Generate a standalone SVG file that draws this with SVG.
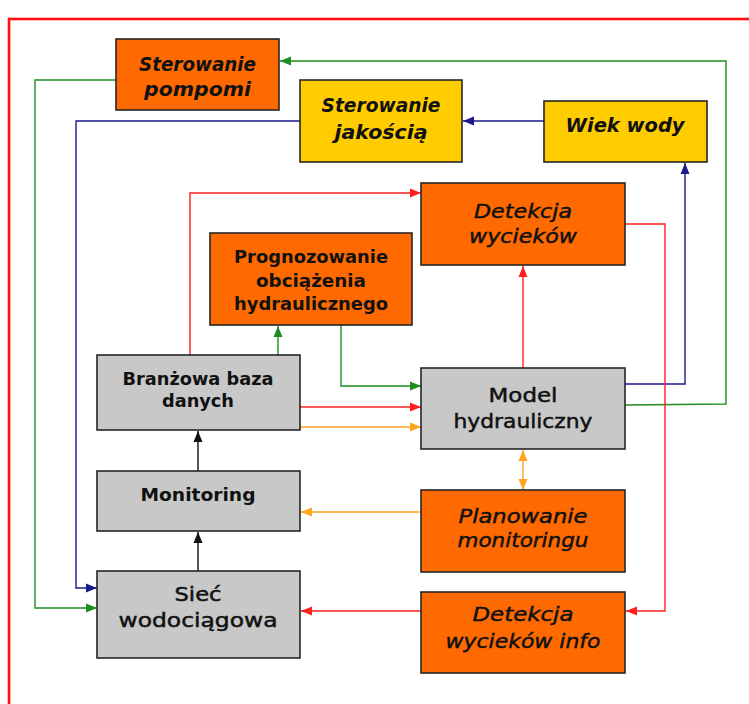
<svg xmlns="http://www.w3.org/2000/svg" width="749" height="704" viewBox="0 0 749 704">
<style>
.box{stroke:#262626;stroke-width:1.6}
.or{fill:#FF6A00}
.ye{fill:#FFCC00}
.gr{fill:#C8C8C8}
text{font-family:"DejaVu Sans","Liberation Sans",sans-serif;fill:#111;text-anchor:middle}
.bi{font-style:oblique;font-weight:bold}
.i{font-style:oblique;stroke:#111;stroke-width:0.45}
.n{stroke:#111;stroke-width:0.5}
.b{font-weight:bold}
.c path{fill:none;stroke-width:1.4}
.g{stroke:#1E8C1E}
.bl{stroke:#1A1A8C}
.r{stroke:#FF2020}
.o{stroke:#FFA41C}
.k{stroke:#111}
</style>
<defs>
<marker id="mg" markerUnits="userSpaceOnUse" markerWidth="12" markerHeight="12" refX="11" refY="6" orient="auto-start-reverse"><path d="M0,1.5 L11,6 L0,10.5 Z" fill="#1E8C1E"/></marker>
<marker id="mb" markerUnits="userSpaceOnUse" markerWidth="12" markerHeight="12" refX="11" refY="6" orient="auto-start-reverse"><path d="M0,1.5 L11,6 L0,10.5 Z" fill="#1A1A8C"/></marker>
<marker id="mr" markerUnits="userSpaceOnUse" markerWidth="12" markerHeight="12" refX="11" refY="6" orient="auto-start-reverse"><path d="M0,1.5 L11,6 L0,10.5 Z" fill="#FF2020"/></marker>
<marker id="mo" markerUnits="userSpaceOnUse" markerWidth="12" markerHeight="12" refX="11" refY="6" orient="auto-start-reverse"><path d="M0,1.5 L11,6 L0,10.5 Z" fill="#FFA41C"/></marker>
<marker id="mk" markerUnits="userSpaceOnUse" markerWidth="12" markerHeight="12" refX="11" refY="6" orient="auto-start-reverse"><path d="M0,1.5 L11,6 L0,10.5 Z" fill="#111"/></marker>
</defs>
<rect width="749" height="704" fill="#fff"/>
<rect x="9" y="19" width="760" height="720" fill="none" stroke="#FF1010" stroke-width="2.6"/>

<g id="connectors" class="c">
<path class="g" d="M625,405 L726,404 L726,61 L280,61" marker-end="url(#mg)"/>
<path class="g" d="M116,80 L35,80 L35,608 L97,608" marker-end="url(#mg)"/>
<path class="bl" d="M300,121 L76,121 L76,588 L97,588" marker-end="url(#mb)"/>
<path class="bl" d="M544,121 L463,121" marker-end="url(#mb)"/>
<path class="bl" d="M625,384 L685,384 L685,163" marker-end="url(#mb)"/>
<path class="r" d="M190,355 L190,193 L421,193" marker-end="url(#mr)"/>
<path class="r" d="M625,224 L665,224 L665,611 L626,611" marker-end="url(#mr)"/>
<path class="g" d="M278,362 L278,326" marker-end="url(#mg)"/>
<path class="g" d="M341,325 L341,386 L421,386" marker-end="url(#mg)"/>
<path class="r" d="M523,368 L523,266" marker-end="url(#mr)"/>
<path class="r" d="M300,407 L421,407" marker-end="url(#mr)"/>
<path class="o" d="M300,427 L421,427" marker-end="url(#mo)"/>
<path class="o" d="M523,450 L523,490" marker-start="url(#mo)" marker-end="url(#mo)"/>
<path class="o" d="M421,512 L301,512" marker-end="url(#mo)"/>
<path class="k" d="M198,471 L198,431" marker-end="url(#mk)"/>
<path class="k" d="M198,571 L198,532" marker-end="url(#mk)"/>
<path class="r" d="M421,611 L301,611" marker-end="url(#mr)"/>
</g>

<g id="sterowanie-pompomi">
<rect class="box or" x="116" y="39" width="163" height="71"/>
<text class="bi" x="197.5" y="71" font-size="19" textLength="117" lengthAdjust="spacingAndGlyphs">Sterowanie</text>
<text class="bi" x="197.5" y="96" font-size="19" textLength="107" lengthAdjust="spacingAndGlyphs">pompomi</text>
</g>
<g id="sterowanie-jakoscia">
<rect class="box ye" x="300" y="80" width="162" height="82"/>
<text class="bi" x="381" y="112" font-size="19" textLength="119" lengthAdjust="spacingAndGlyphs">Sterowanie</text>
<text class="bi" x="381" y="139" font-size="19" textLength="93" lengthAdjust="spacingAndGlyphs">jakością</text>
</g>
<g id="wiek-wody">
<rect class="box ye" x="544" y="101" width="163" height="61"/>
<text class="bi" x="625" y="132" font-size="19" textLength="119" lengthAdjust="spacingAndGlyphs">Wiek wody</text>
</g>
<g id="detekcja-wyciekow">
<rect class="box or" x="421" y="183" width="204" height="82"/>
<text class="i" x="523" y="218" font-size="19" textLength="98" lengthAdjust="spacingAndGlyphs">Detekcja</text>
<text class="i" x="523" y="243" font-size="19" textLength="108" lengthAdjust="spacingAndGlyphs">wycieków</text>
</g>
<g id="prognozowanie">
<rect class="box or" x="210" y="233" width="202" height="92"/>
<text class="b" x="311" y="263" font-size="17" textLength="154" lengthAdjust="spacingAndGlyphs">Prognozowanie</text>
<text class="b" x="311" y="287" font-size="17" textLength="110" lengthAdjust="spacingAndGlyphs">obciążenia</text>
<text class="b" x="311" y="310" font-size="17" textLength="154" lengthAdjust="spacingAndGlyphs">hydraulicznego</text>
</g>
<g id="branzowa-baza">
<rect class="box gr" x="97" y="355" width="203" height="75"/>
<text class="b" x="198" y="385" font-size="17" textLength="151" lengthAdjust="spacingAndGlyphs">Branżowa baza</text>
<text class="b" x="198" y="407" font-size="17" textLength="72" lengthAdjust="spacingAndGlyphs">danych</text>
</g>
<g id="model-hydrauliczny">
<rect class="box gr" x="421" y="368" width="204" height="81"/>
<text class="n" x="523" y="402" font-size="20" textLength="69" lengthAdjust="spacingAndGlyphs">Model</text>
<text class="n" x="523" y="428" font-size="20" textLength="139" lengthAdjust="spacingAndGlyphs">hydrauliczny</text>
</g>
<g id="monitoring">
<rect class="box gr" x="97" y="471" width="203" height="60"/>
<text class="b" x="198" y="501" font-size="18" textLength="115" lengthAdjust="spacingAndGlyphs">Monitoring</text>
</g>
<g id="planowanie-monitoringu">
<rect class="box or" x="421" y="490" width="204" height="82"/>
<text class="i" x="523" y="523" font-size="19" textLength="129" lengthAdjust="spacingAndGlyphs">Planowanie</text>
<text class="i" x="523" y="547" font-size="19" textLength="131" lengthAdjust="spacingAndGlyphs">monitoringu</text>
</g>
<g id="siec-wodociagowa">
<rect class="box gr" x="97" y="571" width="203" height="87"/>
<text class="n" x="198" y="601" font-size="20" textLength="47" lengthAdjust="spacingAndGlyphs">Sieć</text>
<text class="n" x="198" y="627" font-size="20" textLength="159" lengthAdjust="spacingAndGlyphs">wodociągowa</text>
</g>
<g id="detekcja-wyciekow-info">
<rect class="box or" x="421" y="592" width="204" height="81"/>
<text class="i" x="523" y="621" font-size="19" textLength="101" lengthAdjust="spacingAndGlyphs">Detekcja</text>
<text class="i" x="523" y="648" font-size="19" textLength="155" lengthAdjust="spacingAndGlyphs">wycieków info</text>
</g>
</svg>
